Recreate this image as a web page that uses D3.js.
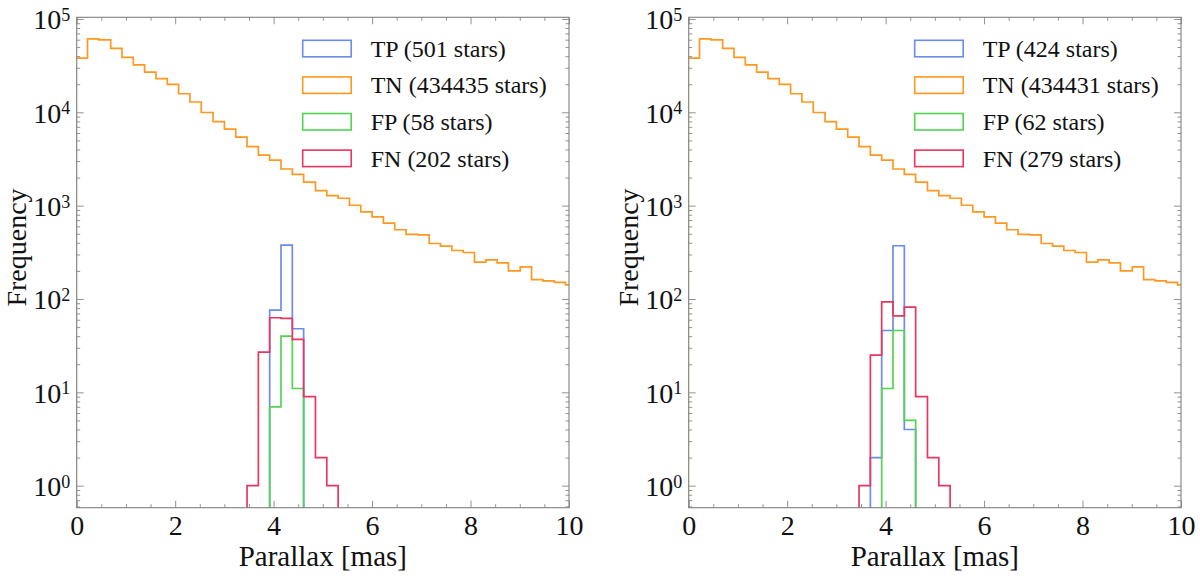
<!DOCTYPE html>
<html>
<head>
<meta charset="utf-8">
<script src="https://cdn.jsdelivr.net/npm/d3@7"></script>
<style>
body { margin: 0; background: #fff; }
text { font-family: "Liberation Serif", "DejaVu Serif", serif; fill: #111; }
</style>
</head>
<body>
<div id="chart-area"></div>
<script>
// shared bin edges (mas)
var binEdges = [-0.01, 0.22, 0.45, 0.69, 0.92, 1.15, 1.38, 1.61, 1.84, 2.07, 2.30,
	2.53, 2.77, 3.00, 3.23, 3.46, 3.69, 3.92, 4.15, 4.38, 4.61, 4.85, 5.08, 5.31,
	5.54, 5.77, 6.00, 6.23, 6.46, 6.69, 6.93, 7.16, 7.39, 7.62, 7.85, 8.08, 8.31,
	8.54, 8.77, 9.01, 9.24, 9.47, 9.70, 9.93, 10.16];

// TN counts per bin (same shape in both panels)
var tnCounts = [38100, 61300, 59800, 48300, 38700, 32300, 27000, 23000, 19900, 15800,
	12900, 9950, 7960, 6610, 5420, 4300, 3470, 3070, 2470, 2160, 1790, 1450, 1280,
	1200, 1010, 858, 760, 650, 552, 492, 486, 393, 368, 331, 315, 248, 262, 244,
	200, 221, 161, 156, 151, 142];

// small classes: first bin index + counts
var tpLeftStart = 17, tpLeft = [76, 377, 48];
var fpLeftStart = 17, fpLeft = [7, 40, 11];
var fnLeftStart = 15, fnLeft = [1, 27, 63, 62, 37, 9, 2, 1];

var tpRightStart = 16, tpRight = [2, 46, 372, 4];
var fpRightStart = 17, fpRight = [11, 46, 5];
var fnRightStart = 15, fnRight = [1, 25, 93, 66, 82, 9, 2, 1];

var legendLeft = ["TP (501 stars)", "TN (434435 stars)", "FP (58 stars)", "FN (202 stars)"];
var legendRight = ["TP (424 stars)", "TN (434431 stars)", "FP (62 stars)", "FN (279 stars)"];

var xTicks = [0, 2, 4, 6, 8, 10];
var xMinorTicks = [0.5, 1, 1.5, 2.5, 3, 3.5, 4.5, 5, 5.5, 6.5, 7, 7.5, 8.5, 9, 9.5];
var yTicks = [1, 10, 100, 1000, 10000, 100000];
var superscripts = ["0", "1", "2", "3", "4", "5"];

var colors = ["#6a8cec", "#ff9820", "#52d452", "#e8365e"];

var width = 492.3;
var height = 490.4;
var top0 = 17.3;
var panelX = [76.7, 688.7];

var svg = d3.select("#chart-area").append("svg")
	.attr("width", 1200)
	.attr("height", 578);

var x = d3.scaleLinear().domain([0, 10]).range([0, width]);
var y = d3.scaleLog().domain([0.581, 104200]).range([height, 0]);

var yMinor = y.ticks().filter((d) => yTicks.indexOf(d) < 0);

function stepPoints(start, counts) {
	var pts = [[binEdges[start], y.domain()[0] / 10]];
	counts.forEach((c, i) => {
		pts.push([binEdges[start + i], c]);
		pts.push([binEdges[start + i + 1], c]);
	});
	pts.push([binEdges[start + counts.length], y.domain()[0] / 10]);
	return pts;
}

var line = d3.line()
	.x((d) => x(d[0]))
	.y((d) => Math.min(y(d[1]), height + 20));

function drawPanel(idx, series, labels) {
	var g = svg.append("g")
		.attr("transform", "translate(" + panelX[idx] + ", " + top0 + ")");

	g.append("clipPath").attr("id", "clip" + idx)
		.append("rect").attr("width", width).attr("height", height);

	var plot = g.append("g").attr("clip-path", "url(#clip" + idx + ")");
	series.forEach((s, i) => {
		plot.append("path")
			.attr("d", line(stepPoints(s.start, s.counts)))
			.attr("fill", "none")
			.attr("stroke", colors[i])
			.attr("stroke-width", 1.7)
			.attr("stroke-linejoin", "miter");
	});

	// ticks on all four sides, pointing in
	var major = 7, minor = 3.5;
	g.append("g").attr("class", "axis").attr("transform", "translate(0," + height + ")")
		.call(d3.axisBottom(x).tickValues(xTicks).tickSize(-major).tickPadding(7).tickFormat(d3.format("d")));
	g.append("g").attr("class", "axis").attr("transform", "translate(0," + height + ")")
		.call(d3.axisBottom(x).tickValues(xMinorTicks).tickSize(-minor).tickFormat(""));
	g.append("g").attr("class", "axis")
		.call(d3.axisTop(x).tickValues(xTicks).tickSize(-major).tickFormat(""));
	g.append("g").attr("class", "axis")
		.call(d3.axisTop(x).tickValues(xMinorTicks).tickSize(-minor).tickFormat(""));

	var left = g.append("g").attr("class", "axis")
		.call(d3.axisLeft(y).tickValues(yTicks).tickSize(-major).tickPadding(6.5).tickFormat(() => ""));
	left.selectAll(".tick text").each(function(d, i) {
		var t = d3.select(this).attr("dy", "10px");
		t.append("tspan").text("10").attr("font-size", "28px");
		t.append("tspan").text(superscripts[i]).attr("font-size", "18px").attr("dy", "-8.5px");
	});
	g.append("g").attr("class", "axis")
		.call(d3.axisLeft(y).tickValues(yMinor).tickSize(-minor).tickFormat(""));
	g.append("g").attr("class", "axis").attr("transform", "translate(" + width + ",0)")
		.call(d3.axisRight(y).tickValues(yTicks).tickSize(-major).tickFormat(""));
	g.append("g").attr("class", "axis").attr("transform", "translate(" + width + ",0)")
		.call(d3.axisRight(y).tickValues(yMinor).tickSize(-minor).tickFormat(""));

	g.selectAll(".axis .domain").remove();
	g.selectAll(".axis line").attr("stroke", "#777").attr("stroke-width", 0.8);
	g.selectAll(".axis text").attr("fill", "#111")
		.attr("font-family", "'Liberation Serif', serif");
	g.selectAll(".axis text").filter(function() { return !this.firstChild || this.firstChild.nodeType === 3; })
		.attr("font-size", "28px");

	g.append("rect")
		.attr("width", width).attr("height", height)
		.attr("fill", "none").attr("stroke", "#808080").attr("stroke-width", 1.1);

	// legend
	var leg = g.selectAll(".legend").data(labels).enter().append("g")
		.attr("transform", (d, i) => "translate(226, " + (31 + i * 36.6) + ")");
	leg.append("rect")
		.attr("x", 0).attr("y", -8)
		.attr("width", 48.5).attr("height", 16.5)
		.attr("fill", "none")
		.attr("stroke", (d, i) => colors[i])
		.attr("stroke-width", 1.6);
	leg.append("text")
		.attr("x", 68).attr("y", 8.5)
		.attr("font-size", "24px")
		.text((d) => d);

	g.append("text")
		.attr("x", width / 2)
		.attr("y", height + 58.5)
		.attr("font-size", "29px")
		.attr("text-anchor", "middle")
		.text("Parallax [mas]");

	g.append("text")
		.attr("x", -(height / 2) + 15)
		.attr("y", -51)
		.attr("font-size", "28px")
		.attr("text-anchor", "middle")
		.attr("transform", "rotate(-90)")
		.text("Frequency");
}

drawPanel(0, [
	{start: tpLeftStart, counts: tpLeft},
	{start: 0, counts: tnCounts},
	{start: fpLeftStart, counts: fpLeft},
	{start: fnLeftStart, counts: fnLeft}
], legendLeft);

drawPanel(1, [
	{start: tpRightStart, counts: tpRight},
	{start: 0, counts: tnCounts},
	{start: fpRightStart, counts: fpRight},
	{start: fnRightStart, counts: fnRight}
], legendRight);
</script>
</body>
</html>
